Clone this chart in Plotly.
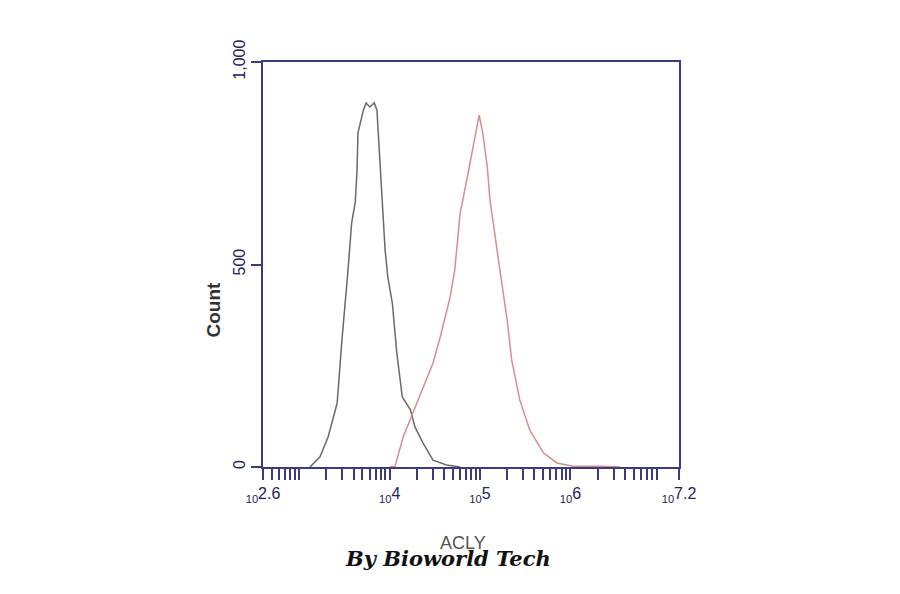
import plotly.graph_objects as go

# Black (control) histogram: log10 intensity, count
ctrl_log = [3.12, 3.23, 3.32, 3.42, 3.47, 3.51, 3.54, 3.58, 3.62, 3.64, 3.65, 3.71, 3.74,
            3.78, 3.83, 3.86, 3.89, 3.92, 3.95, 3.98, 4.03, 4.08, 4.14, 4.23, 4.28, 4.37,
            4.48, 4.63, 4.78]
ctrl_cnt = [0, 25, 74, 158, 306, 405, 486, 602, 654, 733, 825, 881, 899,
            889, 899, 881, 758, 659, 536, 469, 405, 281, 173, 141, 99, 59,
            17, 5, 0]

# Red (ACLY) histogram
acly_log = [4.00, 4.06, 4.15, 4.30, 4.48, 4.56, 4.67, 4.72, 4.78, 4.86, 4.92, 4.99, 5.03,
            5.08, 5.11, 5.17, 5.22, 5.30, 5.35, 5.44, 5.55, 5.70, 5.85, 6.03, 6.33, 6.55]
acly_cnt = [0, 2, 74, 158, 257, 321, 420, 486, 627, 716, 790, 869, 825,
            741, 659, 560, 486, 363, 264, 165, 91, 35, 10, 2, 2, 0]

x_tick_exps = [2.6, 4, 5, 6, 7.2]
x_tick_texts = ["2.6", "4", "5", "6", "7.2"]
y_tick_vals = [0, 500, 1000]
y_tick_texts = ["0", "500", "1,000"]

axis_col = "#3b3b82"
label_col = "#23235a"

tickvals = [10 ** e for e in x_tick_exps]
ticktext = ["<sub>10</sub>" + t for t in x_tick_texts]
# minor log tick positions (digits 2..9 in each decade)
minor_vals = []
for dec in range(2, 7):
    for d in range(1, 10):
        v = d * 10 ** dec
        if 10 ** 2.6 < v < 10 ** 7.2 and all(abs(v - tv) / v > 1e-6 for tv in tickvals):
            minor_vals.append(v)

L, R, T, B = 255, 229, 54, 135
W, H = 900, 594
pw = W - L - R
ph = H - T - B
OFF = 8  # page offset of the figure


def px_to_paper(px, py):
    return (px - OFF - L) / pw, (H - B - (py - OFF)) / ph


cx, cy = px_to_paper(200, 310)
ax_, ay_ = px_to_paper(463, 555)
bx, by = px_to_paper(448, 573)

fig = go.Figure()
fig.add_trace(go.Scatter(x=[10 ** v for v in ctrl_log], y=ctrl_cnt, mode="lines",
                         line=dict(color="#6a6a6a", width=1.5), showlegend=False))
fig.add_trace(go.Scatter(x=[10 ** v for v in acly_log], y=acly_cnt, mode="lines",
                         line=dict(color="#d98c8c", width=1.5), showlegend=False))

fig.update_layout(
    width=W, height=H,
    margin=dict(l=L, r=R, t=T, b=B),
    paper_bgcolor="white", plot_bgcolor="white",
    font=dict(family="Liberation Sans, Arial", color=label_col),
    xaxis=dict(type="log", range=[2.6, 7.2], tickmode="array", tickvals=tickvals,
               ticktext=ticktext, ticks="outside", ticklen=11, tickwidth=2,
               tickcolor=axis_col, tickangle=0, showgrid=False, zeroline=False,
               showline=True, linecolor=axis_col, linewidth=2, mirror=True,
               tickfont=dict(size=16, color=label_col),
               minor=dict(tickmode="array", tickvals=minor_vals, ticks="outside",
                          ticklen=11, tickwidth=2, tickcolor=axis_col, showgrid=False)),
    yaxis=dict(range=[0, 1000], tickmode="array", tickvals=y_tick_vals,
               ticktext=y_tick_texts, ticks="outside", ticklen=10, tickwidth=1.5,
               tickcolor=axis_col, tickangle=-90, showgrid=False, zeroline=False,
               showline=True, linecolor=axis_col, linewidth=2, mirror=True,
               tickfont=dict(size=16, color=label_col)),
)
fig.add_annotation(text="<b>Count</b>", textangle=-90, x=cx, y=cy, xref="paper", yref="paper",
                   showarrow=False, font=dict(size=19, color="#333333", family="Liberation Sans"))
fig.add_annotation(text="ACLY", x=ax_, y=ay_, xref="paper", yref="paper",
                   showarrow=False, font=dict(size=18, color="#555555", family="Liberation Sans"))
fig.add_annotation(text="<b><i>By Bioworld Tech</i></b>", x=bx, y=by, xref="paper", yref="paper",
                   showarrow=False, font=dict(size=21, color="#111111", family="DejaVu Serif"))

fig.write_html("out.html")
